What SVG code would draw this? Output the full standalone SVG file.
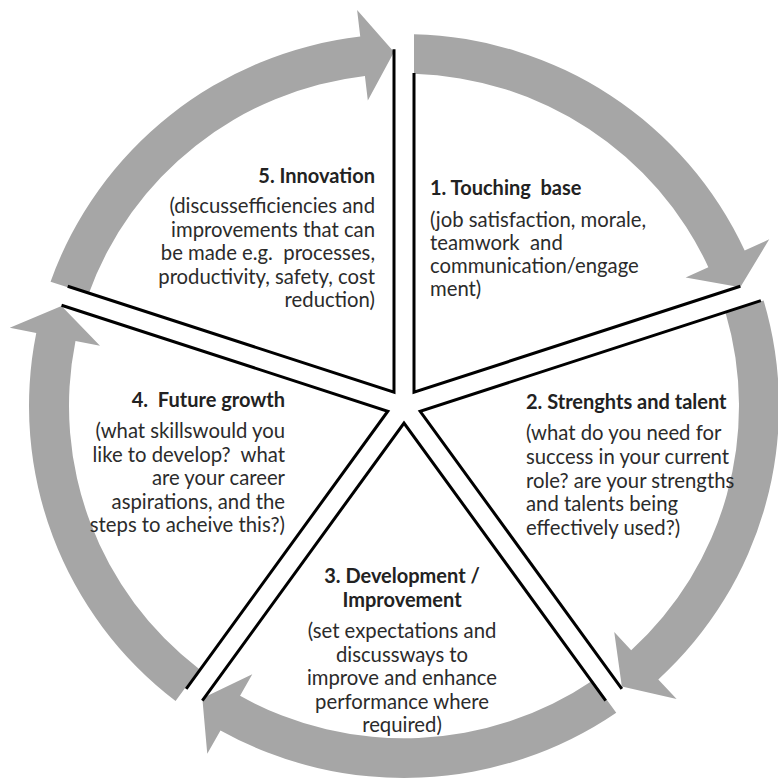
<svg xmlns="http://www.w3.org/2000/svg" xmlns:xlink="http://www.w3.org/1999/xlink" width="778" height="783" viewBox="0 0 778 783">
  <style>
    .arrow { fill: #a6a6a6; stroke: none; }
    .edge { fill: none; stroke: #000; stroke-width: 3; stroke-linejoin: miter; stroke-miterlimit: 10; }
    text { font-family: Lato, "Liberation Sans", sans-serif; font-size: 20.3px; fill: #2b2b2b; white-space: pre; }
    .title { font-weight: bold; font-size: 20px; fill: #222; }
    .end { text-anchor: end; }
    .mid { text-anchor: middle; }
  </style>
  <defs>
    <path id="arc" class="arrow" d="M10,-374.87 A375,375 0 0 1 340.69,-156.70 L365.22,-167.98 L336.30,-119.78 L281.64,-129.54 L304.35,-139.99 A335,335 0 0 0 10,-334.85 Z"/>
  </defs>
  <rect width="778" height="783" fill="#fff"/>

  <g id="connectors" transform="translate(404,406) scale(1,0.992)">
    <use xlink:href="#arc" href="#arc"/>
    <use xlink:href="#arc" href="#arc" transform="rotate(72)"/>
    <use xlink:href="#arc" href="#arc" transform="rotate(144)"/>
    <use xlink:href="#arc" href="#arc" transform="rotate(216)"/>
    <use xlink:href="#arc" href="#arc" transform="rotate(288)"/>
  </g>

  <g id="node1">
    <polyline class="edge" transform="translate(404,406)" points="10,-333 10,-13.76 336.30,-119.78"/>
    <text class="title" x="430" y="195">1. Touching  base</text>
    <text x="430" y="227">(job satisfaction, morale,</text>
    <text x="430" y="250">teamwork  and</text>
    <text x="430" y="273">communication/engage</text>
    <text x="430" y="296">ment)</text>
  </g>

  <g id="node2">
    <polyline class="edge" transform="translate(404,406) rotate(72)" points="10,-372 10,-13.76 336.30,-119.78"/>
    <text class="title" x="526" y="409">2. Strenghts and talent</text>
    <text x="526" y="440">(what do you need for</text>
    <text x="526" y="464">success in your current</text>
    <text x="526" y="488">role? are your strengths</text>
    <text x="526" y="511">and talents being</text>
    <text x="526" y="535">effectively used?)</text>
  </g>

  <g id="node3">
    <polyline class="edge" transform="translate(404,406) rotate(144)" points="10,-356.86 10,-13.76 336.30,-119.78"/>
    <text class="title mid" x="402" y="583">3. Development /</text>
    <text class="title mid" x="402" y="607">Improvement</text>
    <text class="mid" x="402" y="638">(set expectations and</text>
    <text class="mid" x="402" y="661.5">discussways to</text>
    <text class="mid" x="402" y="685">improve and enhance</text>
    <text class="mid" x="402" y="708.5">performance where</text>
    <text class="mid" x="402" y="732">required)</text>
  </g>

  <g id="node4">
    <polyline class="edge" transform="translate(404,406) rotate(216)" points="10,-356.86 10,-13.76 336.30,-119.78"/>
    <text class="title end" x="285" y="407">4.  Future growth</text>
    <text class="end" x="285" y="438">(what skillswould you</text>
    <text class="end" x="285" y="461.5">like to develop?  what</text>
    <text class="end" x="285" y="485">are your career</text>
    <text class="end" x="285" y="508.5">aspirations, and the</text>
    <text class="end" x="285" y="532">steps to acheive this?)</text>
  </g>

  <g id="node5">
    <polyline class="edge" transform="translate(404,406) rotate(288)" points="10,-356.86 10,-13.76 336.30,-119.78"/>
    <text class="title end" x="375" y="183">5. Innovation</text>
    <text class="end" x="375" y="213">(discussefficiencies and</text>
    <text class="end" x="375" y="236.5">improvements that can</text>
    <text class="end" x="375" y="260">be made e.g.  processes,</text>
    <text class="end" x="375" y="283.5">productivity, safety, cost</text>
    <text class="end" x="375" y="307">reduction)</text>
  </g>
</svg>
